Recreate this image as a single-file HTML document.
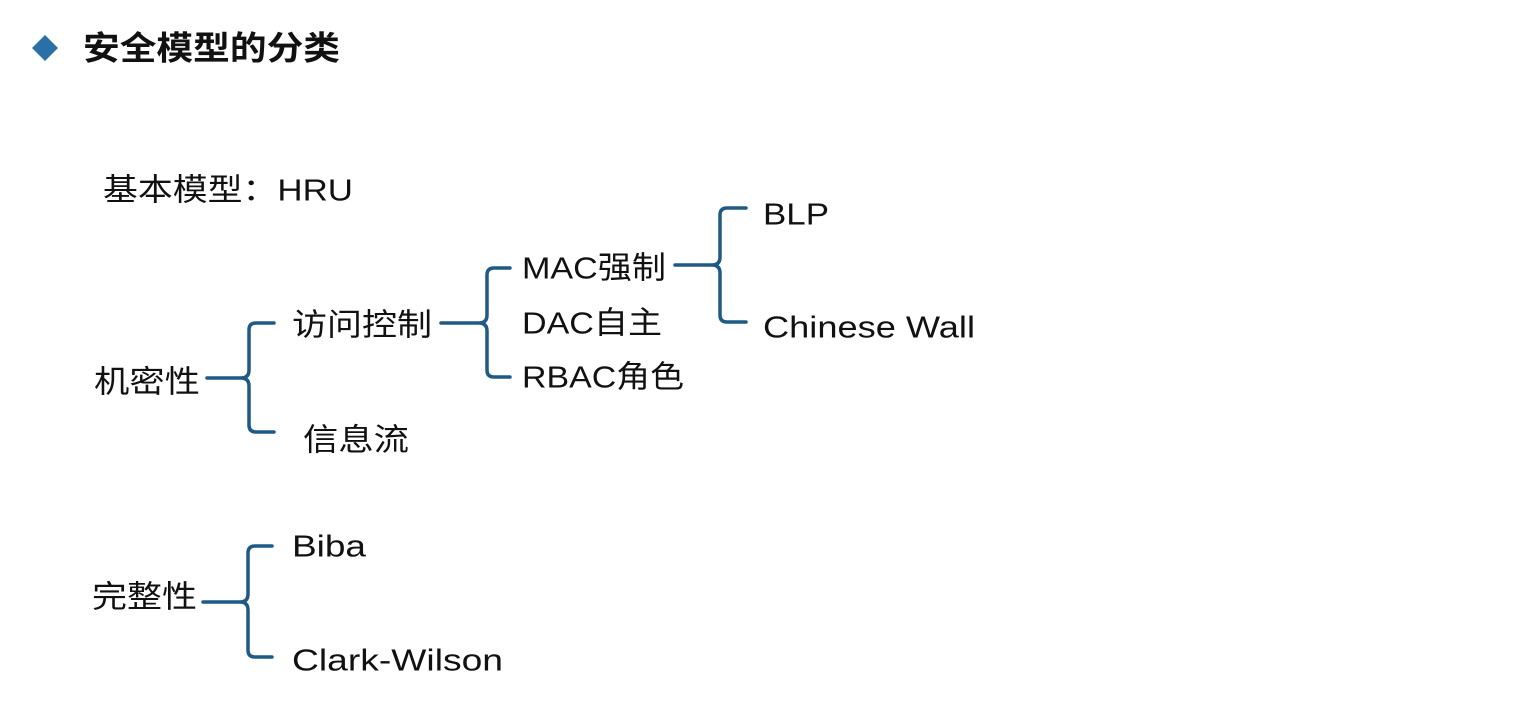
<!DOCTYPE html>
<html><head><meta charset="utf-8"><style>
html,body{margin:0;padding:0;background:#fff;width:1516px;height:706px;overflow:hidden}
svg{display:block}
text{font-family:"Liberation Sans","Noto Sans CJK SC",sans-serif;fill:#111;font-size:31px;dominant-baseline:central}
.b{fill:none;stroke:#1f5a85;stroke-width:3.5;stroke-linecap:round;stroke-linejoin:round}
</style></head><body>
<svg width="1516" height="706" viewBox="0 0 1516 706">
<polygon points="45,35 58,48 45,61 32,48" fill="#2a6fa8"/>
<text x="83" y="48" style="font-size:33px;font-weight:bold" textLength="257" lengthAdjust="spacingAndGlyphs">安全模型的分类</text>
<text x="103" y="190" textLength="250" lengthAdjust="spacingAndGlyphs">基本模型：HRU</text>
<text x="763" y="214" textLength="66" lengthAdjust="spacingAndGlyphs">BLP</text>
<text x="522" y="268" textLength="144" lengthAdjust="spacingAndGlyphs">MAC强制</text>
<text x="292" y="325" textLength="140" lengthAdjust="spacingAndGlyphs">访问控制</text>
<text x="522" y="323" textLength="140" lengthAdjust="spacingAndGlyphs">DAC自主</text>
<text x="763" y="327" textLength="212" lengthAdjust="spacingAndGlyphs">Chinese Wall</text>
<text x="94" y="382" textLength="106" lengthAdjust="spacingAndGlyphs">机密性</text>
<text x="522" y="377" textLength="162" lengthAdjust="spacingAndGlyphs">RBAC角色</text>
<text x="303" y="440" textLength="106" lengthAdjust="spacingAndGlyphs">信息流</text>
<text x="292" y="546" textLength="74" lengthAdjust="spacingAndGlyphs">Biba</text>
<text x="92" y="597" textLength="105" lengthAdjust="spacingAndGlyphs">完整性</text>
<text x="292" y="660" textLength="211" lengthAdjust="spacingAndGlyphs">Clark-Wilson</text>
<path class="b" d="M207,378 H241 Q249,378 249,370 V330 Q249,323 256,323 H274 M241,378 Q249,378 249,386 V425 Q249,432 256,432 H274"/>
<path class="b" d="M441,323 H479 Q487,323 487,315 V275 Q487,268 494,268 H510 M479,323 Q487,323 487,331 V370 Q487,377 494,377 H510"/>
<path class="b" d="M675,265 H712 Q720,265 720,257 V215 Q720,208 727,208 H746 M712,265 Q720,265 720,273 V315 Q720,322 727,322 H746"/>
<path class="b" d="M203,602 H240 Q248,602 248,594 V553 Q248,546 255,546 H272 M240,602 Q248,602 248,610 V650 Q248,657 255,657 H272"/>
</svg>
</body></html>
